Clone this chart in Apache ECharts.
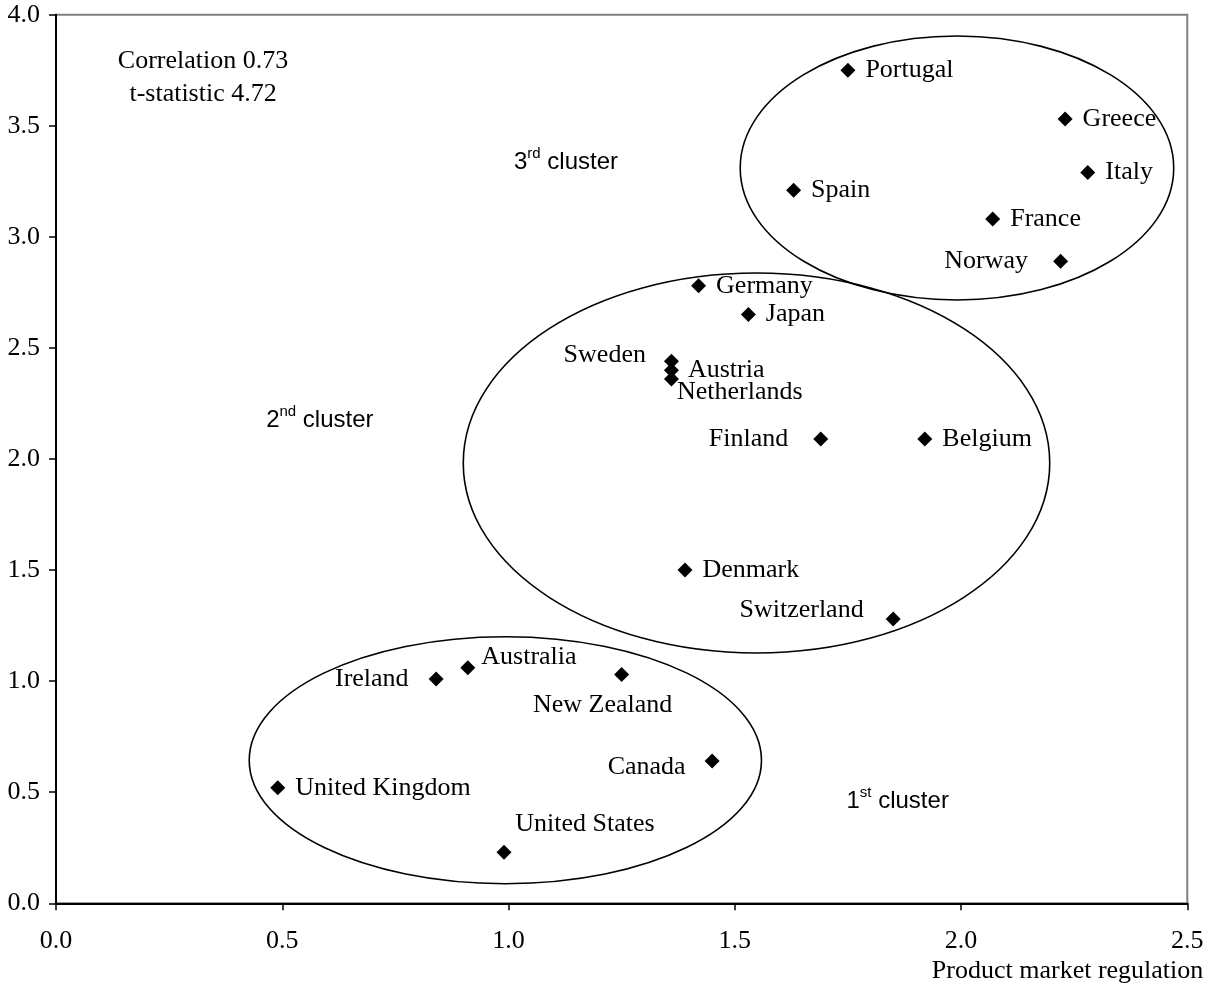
<!DOCTYPE html>
<html><head><meta charset="utf-8">
<script src="https://cdn.jsdelivr.net/npm/echarts/dist/echarts.min.js"></script>
<style>html,body{margin:0;padding:0;background:#fff}#c{width:1214px;height:986px}</style>
</head><body><div id="c"></div>
<script>
// ---- data ----
const countries = ["Portugal","Greece","Italy","Spain","France","Norway","Germany","Japan","Sweden","Austria","Netherlands","Finland","Belgium","Denmark","Switzerland","Ireland","Australia","New Zealand","Canada","United Kingdom","United States"];
const productMarketRegulation = [1.75,2.23,2.28,1.63,2.07,2.22,1.42,1.53,1.36,1.36,1.36,1.69,1.92,1.39,1.85,0.84,0.91,1.25,1.45,0.49,0.99];
const yValues = [3.75,3.53,3.29,3.21,3.08,2.89,2.78,2.65,2.44,2.40,2.36,2.09,2.09,1.50,1.28,1.01,1.06,1.03,0.64,0.52,0.23];
const xTicks = [0,0.5,1.0,1.5,2.0,2.5];
const yTicks = [0,0.5,1.0,1.5,2.0,2.5,3.0,3.5,4.0];
// clusters: centre x, centre y, radius x, radius y (data units)
const clusterCx = [1.991,1.548,0.993];
const clusterCy = [3.310,1.982,0.644];
const clusterRx = [0.479,0.648,0.566];
const clusterRy = [0.594,0.855,0.556];
const clusterNames = ["3rd","2nd","1st"];
const clusterLabelX = [1.127,0.583,1.860];
const clusterLabelY = [3.337,2.176,0.460];
const statsText = ["Correlation 0.73","t-statistic 4.72"];
const statsX = 0.325, statsY = 3.715;
const xAxisTitle = "Product market regulation";

// ---- label placement (style) ----
const labelPlace = {
  "Sweden": {position:"left", distance:18, offset:[0,-6]},
  "Netherlands": {position:"right", distance:10, offset:[-12,13]},
  "Austria": {position:"right", distance:9},
  "Finland": {position:"left", distance:25},
  "Norway": {position:"left", distance:25},
  "Switzerland": {position:"left", distance:22, offset:[0,-9]},
  "Ireland": {position:"left", distance:20},
  "Australia": {position:"right", distance:6, offset:[0,-11]},
  "New Zealand": {position:"bottom", distance:10, offset:[-19,0]},
  "Canada": {position:"left", distance:19, offset:[0,6]},
  "United States": {position:"top", distance:8, offset:[81,0]}
};

const serif = "'Liberation Serif','Times New Roman',serif";
const sans = "'Liberation Sans',Arial,sans-serif";
const FS = 26;

const pointData = countries.map((c,i)=>{
  const lp = labelPlace[c] || {position:"right", distance:10};
  return {name:c, value:[productMarketRegulation[i], yValues[i]], label:Object.assign({show:true}, lp)};
});

const ellipseData = clusterCx.map((cx,i)=>[cx, clusterCy[i], clusterRx[i], clusterRy[i]]);

const clusterLabelData = clusterNames.map((n,i)=>{
  const num = n.slice(0,1), sup = n.slice(1);
  return {value:[clusterLabelX[i], clusterLabelY[i]], label:{formatter:'{n|'+num+'}{s|'+sup+'}{t| cluster}'}};
});

const chart = echarts.init(document.getElementById('c'), null, {renderer:'canvas'});
chart.setOption({
  animation:false,
  backgroundColor:'#fff',
  grid:{left:56, top:14.7, right:26.7, bottom:82.7, show:true, borderColor:'#808080', borderWidth:2},
  xAxis:{type:'value', min:xTicks[0], max:xTicks[xTicks.length-1], interval:0.5,
    name:xAxisTitle, nameLocation:'end', nameGap:16,
    nameTextStyle:{fontFamily:serif, fontSize:FS, color:'#000', align:'right', verticalAlign:'top', padding:[55,0,0,0]},
    axisLine:{show:true, onZero:false, lineStyle:{color:'#000', width:2}},
    axisTick:{show:true, length:7, lineStyle:{color:'#000', width:1.5}},
    axisLabel:{fontFamily:serif, fontSize:FS, color:'#000', margin:25, formatter:v=>v.toFixed(1)},
    splitLine:{show:false}},
  yAxis:{type:'value', min:yTicks[0], max:yTicks[yTicks.length-1], interval:0.5,
    axisLine:{show:true, onZero:false, lineStyle:{color:'#000', width:2}},
    axisTick:{show:true, length:7, lineStyle:{color:'#000', width:1.5}},
    axisLabel:{fontFamily:serif, fontSize:FS, color:'#000', margin:16, formatter:v=>v.toFixed(1)},
    splitLine:{show:false}},
  series:[
    {type:'custom', name:'clusters', data:ellipseData, silent:true, z:1,
     renderItem:function(params, api){
       const c = api.coord([api.value(0), api.value(1)]);
       const s = api.size([api.value(2), api.value(3)]);
       return {type:'ellipse', shape:{cx:c[0], cy:c[1], rx:s[0], ry:s[1]},
               style:{fill:'none', stroke:'#000', lineWidth:1.6}};
     }},
    {type:'scatter', name:'countries', data:pointData, symbol:'diamond', symbolSize:15, z:3,
     itemStyle:{color:'#000', opacity:1},
     label:{show:true, formatter:'{b}', fontFamily:serif, fontSize:FS, color:'#000'}},
    {type:'scatter', name:'clusterLabels', data:clusterLabelData, symbolSize:0, z:3,
     itemStyle:{opacity:1},
     label:{show:true, position:'inside',
       rich:{n:{fontFamily:sans, fontSize:24, color:'#000', lineHeight:32},
             s:{fontFamily:sans, fontSize:15, color:'#000', verticalAlign:'top', lineHeight:32},
             t:{fontFamily:sans, fontSize:24, color:'#000', lineHeight:32}}}},
    {type:'scatter', name:'stats', data:[{value:[statsX, statsY]}], symbolSize:0, z:3,
     itemStyle:{opacity:1},
     label:{show:true, position:'inside', formatter:statsText.join('\n'), fontFamily:serif, fontSize:FS, color:'#000', lineHeight:33, align:'center'}}
  ]
});
</script>
</body></html>
